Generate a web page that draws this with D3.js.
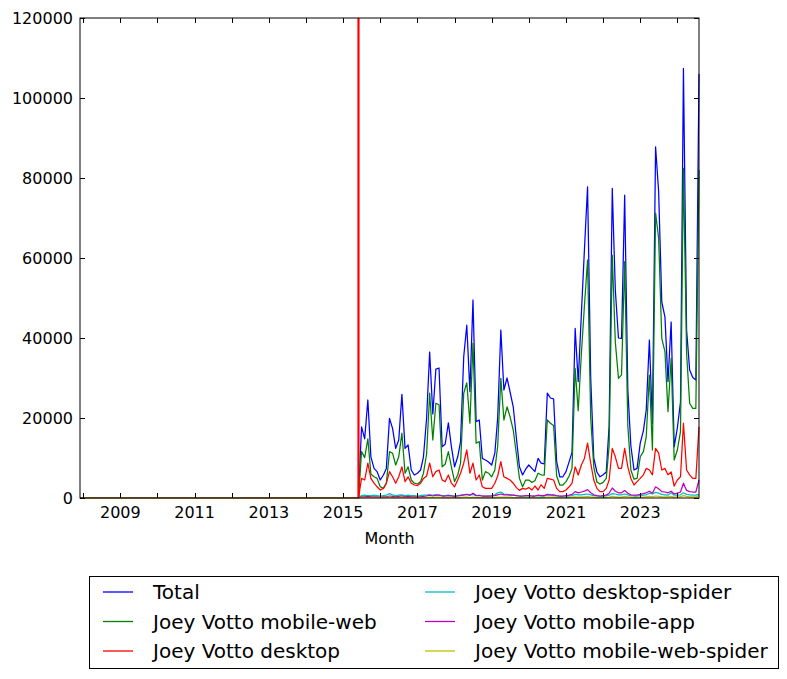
<!DOCTYPE html>
<html>
<head>
<meta charset="utf-8">
<script src="https://cdnjs.cloudflare.com/ajax/libs/d3/7.8.5/d3.min.js"></script>
<style>
  html, body { margin: 0; padding: 0; background: #ffffff; }
  svg { display: block; font-family: "DejaVu Sans", sans-serif; }
</style>
</head>
<body>
<svg id="chart" width="787" height="679"></svg>
<script>
// ---- data ----
const axisStart = "2007-12";   // first month on the axis (values are zero until data begins)
const zeroUntil = "2015-06";   // last zero month, marked by the red line
const dataStart = "2015-07";   // first month with pageview data
const yTicks = [0, 20000, 40000, 60000, 80000, 100000, 120000];
const xTickYears = [2008,2009,2010,2011,2012,2013,2014,2015,2016,2017,2018,2019,2020,2021,2022,2023,2024];
const xLabelYears = [2009, 2011, 2013, 2015, 2017, 2019, 2021, 2023];

const seriesNames = ["Total", "Joey Votto mobile-web", "Joey Votto desktop",
  "Joey Votto desktop-spider", "Joey Votto mobile-app", "Joey Votto mobile-web-spider"];
const seriesColors = ["#0000ff", "#008000", "#ff0000", "#00bfbf", "#bf00bf", "#bfbf00"];

const total = [17800,14800,24500,10300,7400,6600,4500,5750,7400,19900,17400,12400,14500,25900,12400,13250,7000,5750,6200,7000,10300,20000,
  36500,21000,32200,32500,12800,13500,18800,12800,7800,10300,14100,35300,43200,26600,49500,19100,19500,9900,9500,9000,8250,11200,
  20000,42000,27000,30000,26500,22800,15000,7800,5750,7200,8250,7400,6600,9900,8700,8500,26200,25000,24800,9100,5300,5300,6600,9100,
  11400,42400,29100,46000,62000,77800,30000,10000,6500,5300,5800,6500,18000,77400,52000,40000,39900,75700,27000,13000,7000,7400,13700,
  16800,22000,39500,18700,87800,76600,49000,45300,29100,44000,12800,17500,24000,107400,42000,32000,30100,29500,106000];
const mobileWeb = [11600,10100,14800,6000,5300,4900,2800,2400,3700,11600,11200,8250,10300,16200,6200,7800,4500,3700,3500,4100,6200,11000,
  26200,14500,23700,23300,7800,8500,11600,7800,4100,5750,8700,26200,28800,18700,38700,13700,14100,4500,6600,6200,5300,7000,
  13000,29900,19500,22800,20300,17000,11000,4900,2800,4500,4500,3900,4300,6200,5800,5700,19500,18700,18100,5500,3250,3250,4100,5500,
  7400,32400,21800,36000,48000,59500,20000,7800,4000,3500,3900,4900,13000,60700,39000,29900,30800,59100,18000,7000,4700,4900,10300,
  11600,15300,30700,12000,71200,65000,39900,36600,21600,34900,9500,12000,16600,82400,36200,23700,22400,22400,82000];
const desktop = [4900,4500,8700,4900,3700,2800,2000,2400,3700,6600,5300,3700,5300,7800,4100,5300,3700,3250,3100,3700,4900,5500,
  8700,5300,6600,7000,4500,4100,5750,3700,2800,4500,6200,8700,12000,6200,8700,4500,5750,2800,2400,2400,2400,3700,
  5500,9100,5300,4900,4500,3700,2600,1900,2400,2200,2600,2000,3000,2000,3300,2400,4900,4700,4500,2400,1600,1600,2000,2800,
  3700,7800,5750,8250,9900,13700,8700,4500,2400,1600,1600,2400,4500,12400,10300,7400,7400,12400,7800,4900,3250,4100,4900,
  5800,7400,7000,5800,12400,11200,7000,7400,5800,6500,3000,4500,5300,18700,7000,5800,4900,4900,17800];
const desktopSpider = [600,700,600,600,700,600,500,600,700,1100,800,600,700,800,600,700,600,600,500,600,700,700,
  800,700,800,700,600,600,700,600,500,600,700,800,900,700,900,600,700,500,500,500,600,800,
  1300,1500,1000,900,800,700,600,500,500,500,600,500,500,600,500,500,700,700,600,500,400,400,500,500,
  600,900,800,800,900,1000,800,600,500,400,400,500,700,1100,1000,800,800,1000,800,600,500,500,600,
  700,800,1200,1000,1400,1200,900,800,700,1300,700,700,800,1300,900,800,700,700,900];
const mobileApp = [300,300,400,300,300,300,200,300,300,500,400,300,400,500,300,400,300,300,300,300,400,500,
  700,500,700,700,500,500,600,500,400,500,600,800,900,700,1200,600,600,500,500,500,500,600,
  800,1000,800,800,700,700,600,500,500,600,600,500,500,700,600,600,900,800,800,600,500,500,600,700,
  900,1600,1300,1500,1700,2100,1300,800,600,500,600,700,1200,2500,1700,1300,1300,1900,1200,800,700,700,900,
  1100,1300,1700,1200,2800,2300,1600,1500,1300,1700,1000,1200,1500,3700,1900,1600,1500,1500,4500];
const mobileWebSpider = [100,100,100,100,100,100,100,100,100,200,100,100,100,200,100,100,100,100,100,100,100,100,
  200,100,200,200,100,100,100,100,100,100,100,200,200,100,200,100,100,100,100,100,100,100,
  200,200,200,200,200,100,100,100,100,100,100,100,100,100,100,100,200,200,200,100,100,100,100,100,
  200,300,200,300,300,400,200,200,100,100,100,100,200,400,300,200,200,400,300,200,100,100,200,
  200,300,400,300,500,400,300,300,300,400,200,300,300,600,400,300,300,300,600];

const seriesValues = [total, mobileWeb, desktop, desktopSpider, mobileApp, mobileWebSpider];

// ---- layout ----
const svg = d3.select("#chart");
const W = 787, H = 679;
const plot = { left: 80, right: 699, top: 18, bottom: 498 };
const parseMonth = d3.timeParse("%Y-%m");
const months = d3.timeMonth.range(parseMonth(dataStart), d3.timeMonth.offset(parseMonth(dataStart), total.length));

const x = d3.scaleTime()
  .domain([parseMonth(axisStart), months[months.length - 1]])
  .range([plot.left, plot.right]);
const y = d3.scaleLinear().domain([0, 120000]).range([plot.bottom, plot.top]);

svg.append("rect").attr("width", W).attr("height", H).attr("fill", "#ffffff");

const clipId = "plotclip";
svg.append("clipPath").attr("id", clipId).append("rect")
  .attr("x", plot.left).attr("y", plot.top - 1)
  .attr("width", plot.right - plot.left + 1).attr("height", plot.bottom - plot.top + 2);

const line = d3.line().x(d => x(d[0])).y(d => y(d[1]));
const g = svg.append("g").attr("clip-path", `url(#${clipId})`);

seriesValues.forEach((vals, k) => {
  const pts = [[parseMonth(axisStart), 0], [parseMonth(zeroUntil), 0]]
    .concat(vals.map((v, i) => [months[i], v]));
  g.append("path").datum(pts)
    .attr("d", line)
    .attr("fill", "none")
    .attr("stroke", seriesColors[k])
    .attr("stroke-width", 1.25)
    .attr("stroke-linejoin", "round");
});

// red vertical marker
g.append("line")
  .attr("x1", x(parseMonth(zeroUntil))).attr("x2", x(parseMonth(zeroUntil)))
  .attr("y1", plot.top).attr("y2", plot.bottom)
  .attr("stroke", "#ff0000").attr("stroke-width", 2.2);

// frame
svg.append("rect")
  .attr("x", plot.left).attr("y", plot.top)
  .attr("width", plot.right - plot.left).attr("height", plot.bottom - plot.top)
  .attr("fill", "none").attr("stroke", "#000").attr("stroke-width", 1);

const tickLen = 5;
// y ticks (inward, both sides)
yTicks.forEach(v => {
  const yy = Math.round(y(v)) + 0.5;
  svg.append("line").attr("x1", plot.left).attr("x2", plot.left + tickLen)
    .attr("y1", yy).attr("y2", yy).attr("stroke", "#000");
  svg.append("line").attr("x1", plot.right).attr("x2", plot.right - tickLen)
    .attr("y1", yy).attr("y2", yy).attr("stroke", "#000");
  svg.append("text").attr("x", plot.left - 7).attr("y", y(v))
    .attr("dy", "0.36em").attr("text-anchor", "end")
    .attr("font-size", 16).attr("fill", "#000").text(v);
});

// x ticks (inward, top and bottom)
xTickYears.forEach(yr => {
  const xx = Math.round(x(new Date(yr, 0, 1))) + 0.5;
  svg.append("line").attr("x1", xx).attr("x2", xx)
    .attr("y1", plot.bottom).attr("y2", plot.bottom - tickLen).attr("stroke", "#000");
  svg.append("line").attr("x1", xx).attr("x2", xx)
    .attr("y1", plot.top).attr("y2", plot.top + tickLen).attr("stroke", "#000");
});
xLabelYears.forEach(yr => {
  svg.append("text").attr("x", x(new Date(yr, 0, 1))).attr("y", 518)
    .attr("text-anchor", "middle").attr("font-size", 16).attr("fill", "#000").text(yr);
});

svg.append("text").attr("x", (plot.left + plot.right) / 2).attr("y", 544)
  .attr("text-anchor", "middle").attr("font-size", 16).attr("fill", "#000").text("Month");

// legend
const leg = svg.append("g");
leg.append("rect").attr("x", 89.5).attr("y", 576.5).attr("width", 689).attr("height", 92)
  .attr("fill", "#fff").attr("stroke", "#000").attr("stroke-width", 1);
const colX = [103, 425];
const rowY = [592, 621.5, 651];
seriesNames.forEach((name, k) => {
  const c = Math.floor(k / 3), r = k % 3;
  leg.append("line").attr("x1", colX[c]).attr("x2", colX[c] + 30)
    .attr("y1", rowY[r]).attr("y2", rowY[r])
    .attr("stroke", seriesColors[k]).attr("stroke-width", 1.3);
  leg.append("text").attr("x", colX[c] + 50).attr("y", rowY[r]).attr("dy", "0.36em")
    .attr("font-size", 20).attr("fill", "#000").text(name);
});
</script>
</body>
</html>
